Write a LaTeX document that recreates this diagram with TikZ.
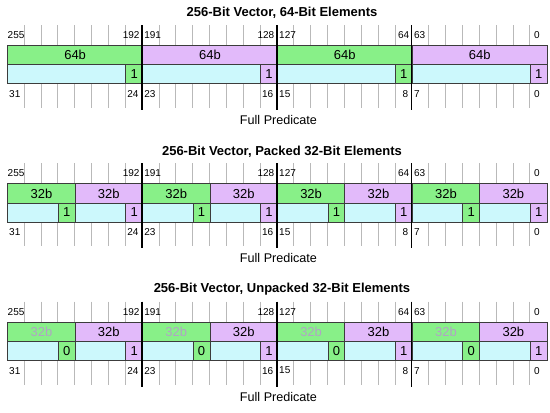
\documentclass[tikz,border=0pt]{standalone}
\usepackage{fontspec}
\setmainfont{Liberation Sans}
\definecolor{elemgreen}{RGB}{136,240,136}
\definecolor{elempurple}{RGB}{226,186,250}
\definecolor{predcyan}{RGB}{204,248,252}
\definecolor{tickgray}{RGB}{185,185,185}
\definecolor{boxline}{RGB}{60,60,60}
\definecolor{faded}{RGB}{176,164,196}
\tikzset{
  paneltitle/.style={font=\fontsize{13}{15}\selectfont\bfseries, inner sep=0pt},
  elem/.style={draw=boxline, line width=0.8pt, minimum height=19.3pt, inner sep=0pt,
    anchor=north west, font=\fontsize{13}{15}\selectfont},
  pred/.style={elem, minimum height=19pt},
  bitlab/.style={font=\fontsize{10}{12}\selectfont, inner sep=0pt},
  predlab/.style={font=\fontsize{12.6}{14}\selectfont, inner sep=0pt},
  tick/.style={draw=tickgray, line width=0.9pt},
  sepline/.style={draw=black, line width=1.3pt}
}
\newcommand{\cw}{16.856}
\begin{document}
\begin{tikzpicture}[x=1pt,y=-1pt]
\useasboundingbox (0,0) rectangle (550,413);
\foreach \p/\yo/\k/\un/\ttl in {1/0/8/0/{256-Bit Vector, 64-Bit Elements},
    2/138.3/4/0/{256-Bit Vector, Packed 32-Bit Elements},
    3/276.6/4/1/{256-Bit Vector, Unpacked 32-Bit Elements}} {
\begin{scope}[shift={(0,\yo)}]
  \node[paneltitle] (title\p) at (282,13) {\ttl};
  % grey bit ticks
  \foreach \i in {1,...,31} {
    \draw[tick] ({7.3+\i*\cw},25) -- ({7.3+\i*\cw},45);
    \draw[tick] ({7.3+\i*\cw},83.3) -- ({7.3+\i*\cw},108);
  }
  % elements and predicate bits
  \pgfmathtruncatemacro{\last}{32/\k-1}
  \foreach \e in {0,...,\last} {
    \ifodd\e
      \def\col{elempurple}\def\tcol{black}\def\bit{1}
    \else
      \def\col{elemgreen}
      \ifnum\un=1 \def\tcol{faded}\def\bit{0}\else\def\tcol{black}\def\bit{1}\fi
    \fi
    \pgfmathsetmacro{\xa}{7.3+\e*\k*\cw}
    \pgfmathsetmacro{\wa}{\k*\cw}
    \pgfmathsetmacro{\wc}{(\k-1)*\cw}
    \pgfmathsetmacro{\xb}{\xa+\wc}
    \node[elem, fill=\col, text=\tcol, minimum width=\wa pt] (p\p-e\e) at (\xa,45)
      {\number\numexpr8*\k\relax b};
    \node[pred, fill=predcyan, minimum width=\wc pt] (p\p-c\e) at (\xa,64.3) {};
    \node[pred, fill=\col, minimum width=\cw pt] (p\p-b\e) at (\xb,64.3) {\bit};
  }
  % 64-bit boundaries
  \foreach \j in {8,16,24}
    \draw[sepline] ({7.3+\j*\cw},25) -- ({7.3+\j*\cw},110);
  % bit numbers
  \node[bitlab, anchor=west] (p\p-t255) at (7.5,35) {255};
  \node[bitlab, anchor=west] (p\p-b31) at (9,94) {31};
  \foreach \j/\hi/\lo/\hb/\lb in {8/192/191/24/23, 16/128/127/16/15, 24/64/63/8/7} {
    \node[bitlab, anchor=east] (p\p-t\hi) at ({7.3+\j*\cw-2.5},35) {\hi};
    \node[bitlab, anchor=west] (p\p-t\lo) at ({7.3+\j*\cw+2},35) {\lo};
    \node[bitlab, anchor=east] (p\p-b\hb) at ({7.3+\j*\cw-3.5},94) {\hb};
    \node[bitlab, anchor=west] (p\p-b\lb) at ({7.3+\j*\cw+2},94) {\lb};
  }
  \node[bitlab, anchor=west] (p\p-t0) at ({7.3+31*\cw+4},35) {0};
  \node[bitlab, anchor=west] (p\p-b0) at ({7.3+31*\cw+4},94) {0};
  \node[predlab] (full\p) at (278.5,120) {Full Predicate};
\end{scope}
}
\end{tikzpicture}
\end{document}
